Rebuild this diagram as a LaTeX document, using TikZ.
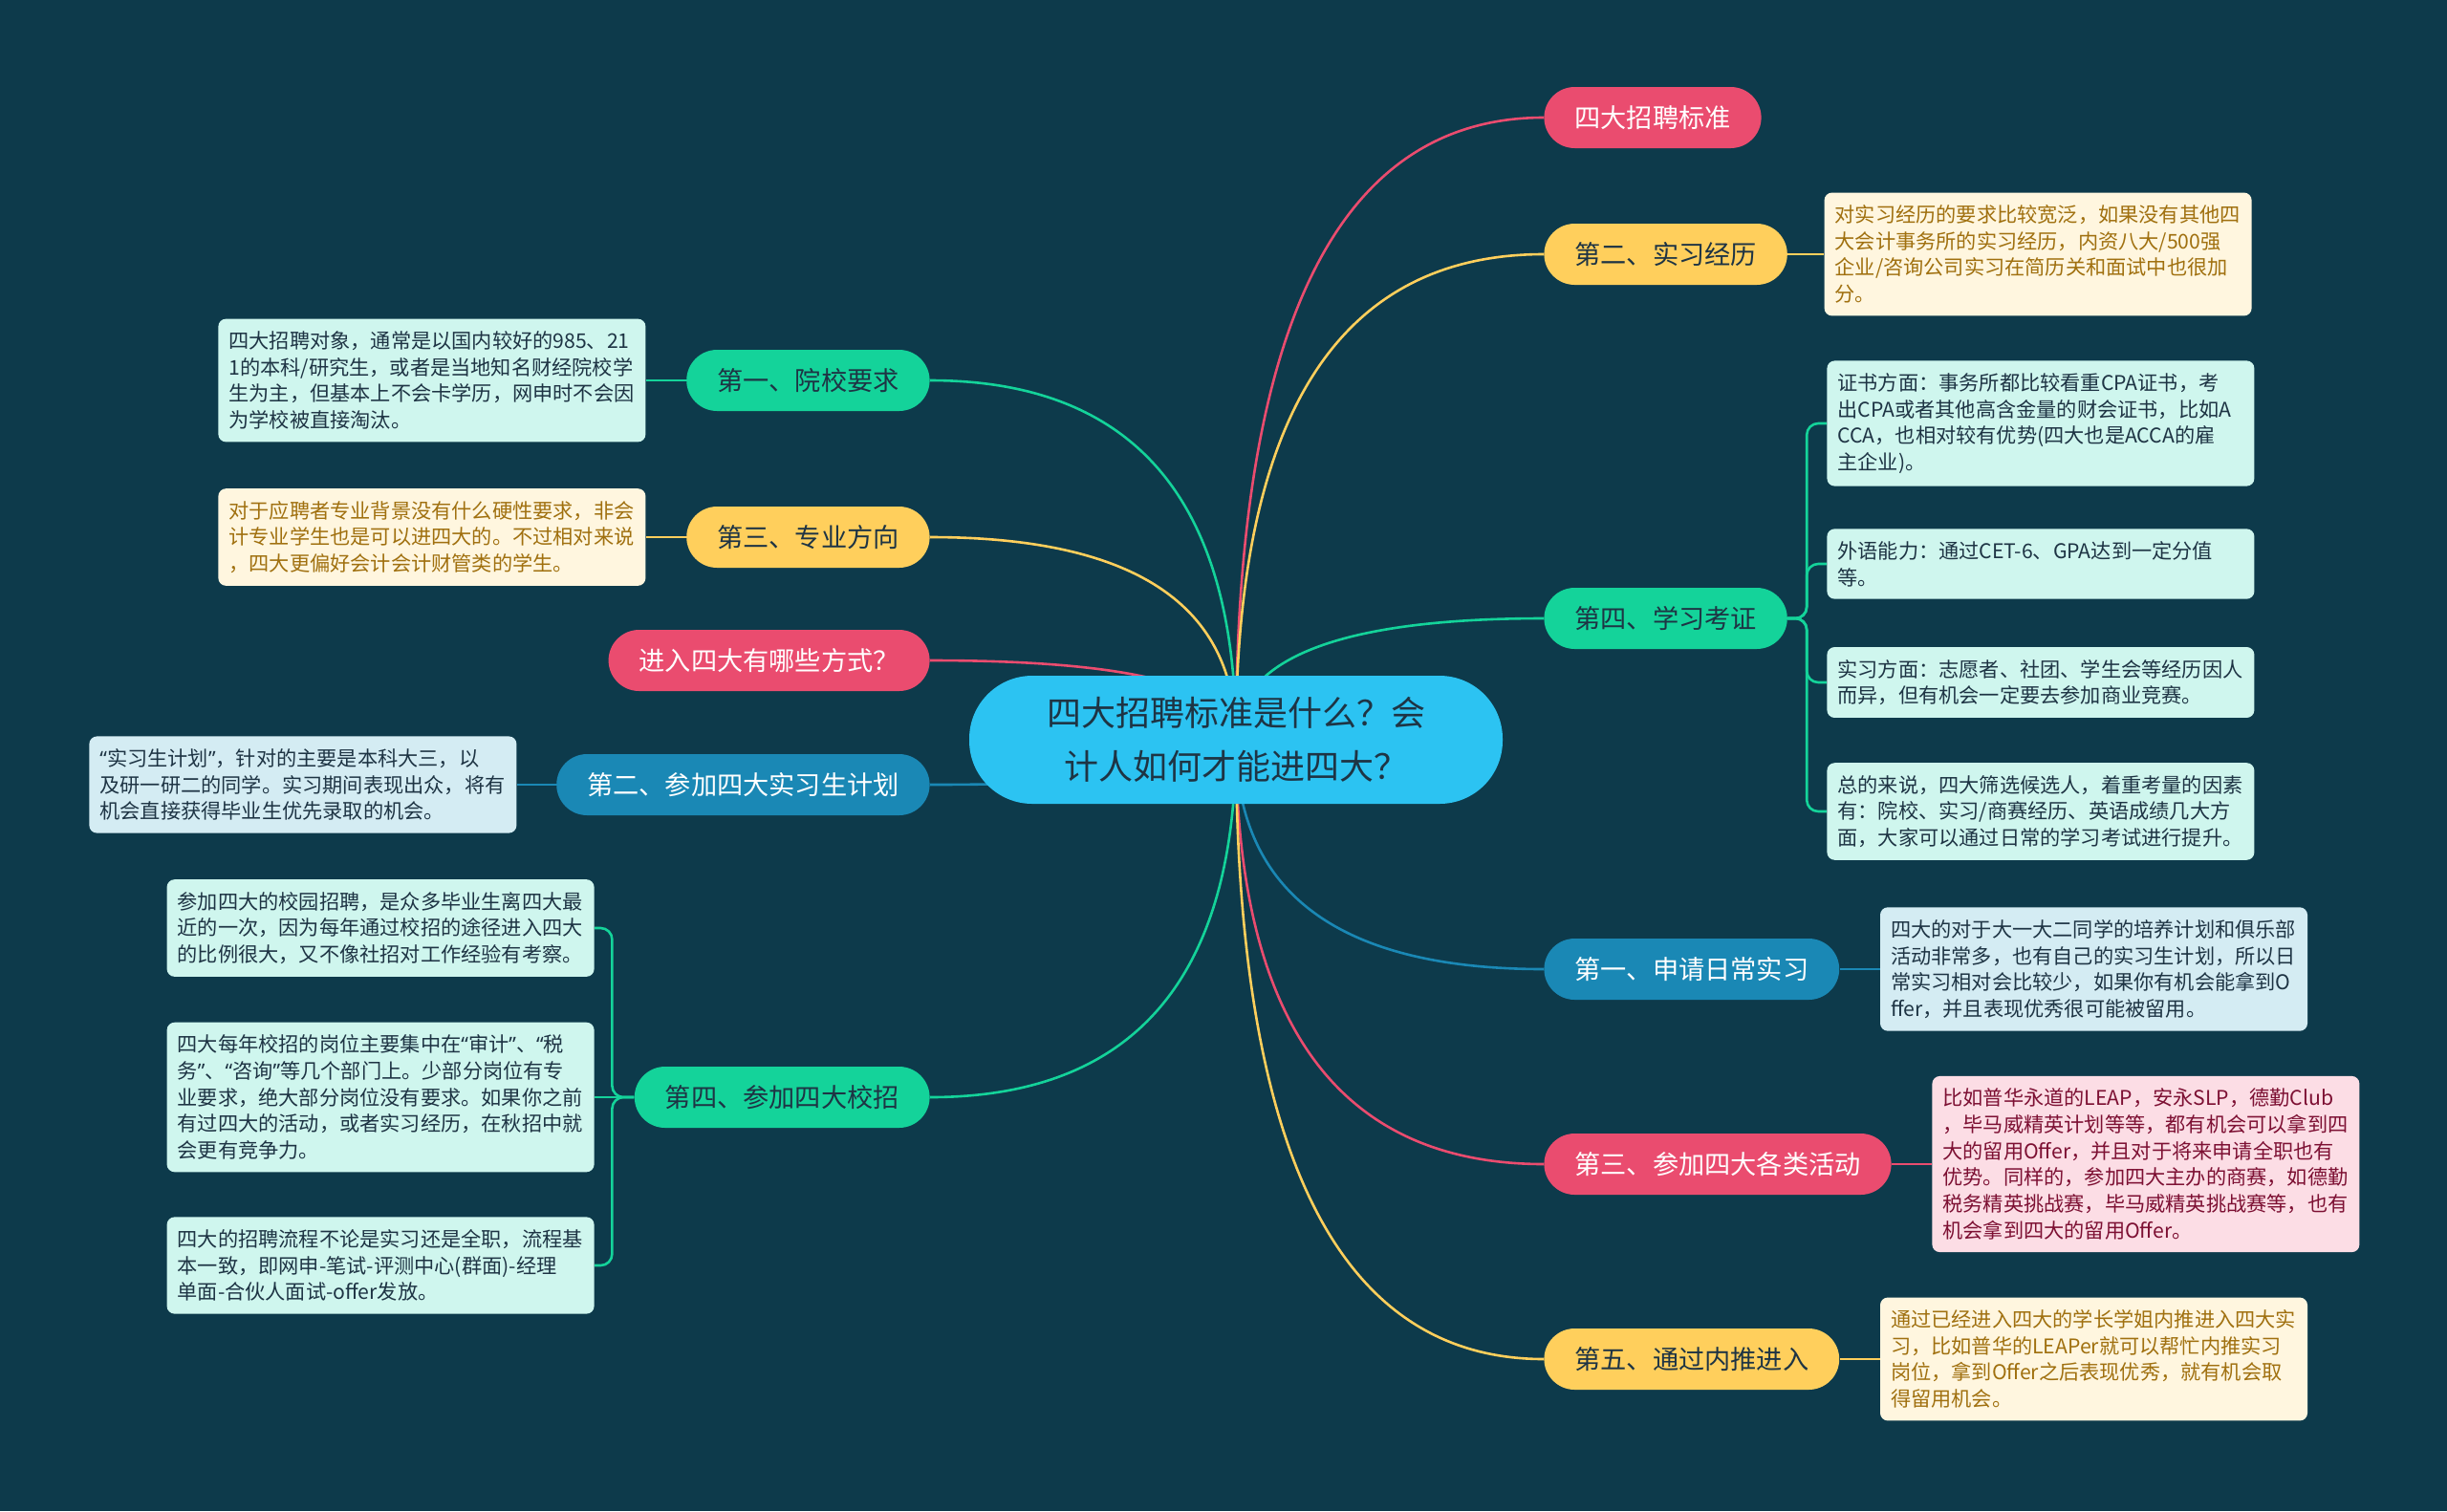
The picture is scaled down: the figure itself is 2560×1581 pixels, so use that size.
\documentclass[tikz,border=0pt]{standalone}
\usepackage{fontspec}
\setmainfont{Noto Sans CJK SC}
\newfontfamily\quotefont{Noto Sans}
\newcommand\opq{{\quotefont “}}
\newcommand\clq{{\quotefont ”}}
\usepackage{xcolor}
\usepackage{tikz}
\usetikzlibrary{positioning,calc}

\definecolor{bgc}{HTML}{0D3A4B}
\definecolor{centerc}{HTML}{2CC3F2}
\definecolor{pinkc}{HTML}{EA4C6F}
\definecolor{yellowc}{HTML}{FFCF5C}
\definecolor{greenc}{HTML}{14D39A}
\definecolor{bluec}{HTML}{1A88B5}
\definecolor{darktext}{HTML}{1E3444}
\definecolor{mintc}{HTML}{CFF6EE}
\definecolor{creamc}{HTML}{FFF6DF}
\definecolor{creamtext}{HTML}{A0700F}
\definecolor{paleblue}{HTML}{D4ECF3}
\definecolor{palepink}{HTML}{FCDDE5}
\definecolor{pinktext}{HTML}{7D1033}

\pgfdeclarelayer{bg}
\pgfdeclarelayer{lines}
\pgfsetlayers{bg,lines,main}

\tikzset{
    topic/.style={rounded corners=16pt, minimum height=32pt, inner xsep=16pt, inner ysep=0pt,
        font=\fontsize{13.6pt}{16pt}\selectfont},
    leaf/.style={rounded corners=4pt, text width=212.5pt, inner xsep=5.5pt, inner ysep=6.5pt,
        align=left, font=\fontsize{10.6pt}{13.85pt}\selectfont},
    edgeline/.style={line width=1.3pt},
    curvy/.style={to path={.. controls ($(\tikztostart)!0.667!(\tikztostart |- \tikztotarget)$)
        and ($(\tikztotarget)!0.667!(\tikztostart |- \tikztotarget)$) .. (\tikztotarget)}},
}

\begin{document}
\begin{tikzpicture}[x=0.5pt, y=-0.5pt]
        \begin{pgfonlayer}{bg}
            \fill[bgc] (0,0) rectangle (2560,1581);
        \end{pgfonlayer}

        % centre
        \node[fill=centerc, text=darktext, rounded corners=33pt, minimum width=279pt, minimum height=67pt,
            align=center, font=\fontsize{18pt}{27.75pt}\selectfont] (c) at (1293,774)
            {四大招聘标准是什么？会\\计人如何才能进四大？};

        % right side
        \node[topic, fill=pinkc, text=white, anchor=west] (r1) at (1615,123) {四大招聘标准};
        \node[topic, fill=yellowc, text=darktext, anchor=west] (r2) at (1615,266) {第二、实习经历};
        \node[topic, fill=greenc, text=darktext, anchor=west] (r3) at (1615,647) {第四、学习考证};
        \node[topic, fill=bluec, text=white, anchor=west] (r4) at (1615,1014) {第一、申请日常实习};
        \node[topic, fill=pinkc, text=white, anchor=west] (r5) at (1615,1218) {第三、参加四大各类活动};
        \node[topic, fill=yellowc, text=darktext, anchor=west] (r6) at (1615,1422) {第五、通过内推进入};

        \node[leaf, fill=creamc, text=creamtext, right=19pt of r2] (r2a)
            {对实习经历的要求比较宽泛，如果没有其他四\\大会计事务所的实习经历，内资八大/500强\\企业/咨询公司实习在简历关和面试中也很加\\分。};
        \node[leaf, fill=mintc, text=darktext, anchor=west] (r3a) at (1911,443)
            {证书方面：事务所都比较看重CPA证书，考\\出CPA或者其他高含金量的财会证书，比如A\\CCA，也相对较有优势(四大也是ACCA的雇\\主企业)。};
        \node[leaf, fill=mintc, text=darktext, anchor=west] (r3b) at (1911,590)
            {外语能力：通过CET-6、GPA达到一定分值\\等。};
        \node[leaf, fill=mintc, text=darktext, anchor=west] (r3c) at (1911,714)
            {实习方面：志愿者、社团、学生会等经历因人\\而异，但有机会一定要去参加商业竞赛。};
        \node[leaf, fill=mintc, text=darktext, anchor=west] (r3d) at (1911,849)
            {总的来说，四大筛选候选人，着重考量的因素\\有：院校、实习/商赛经历、英语成绩几大方\\面，大家可以通过日常的学习考试进行提升。};
        \node[leaf, fill=paleblue, text=darktext, right=21pt of r4] (r4a)
            {四大的对于大一大二同学的培养计划和俱乐部\\活动非常多，也有自己的实习生计划，所以日\\常实习相对会比较少，如果你有机会能拿到O\\ffer，并且表现优秀很可能被留用。};
        \node[leaf, fill=palepink, text=pinktext, right=21pt of r5] (r5a)
            {比如普华永道的LEAP，安永SLP，德勤Club\\，毕马威精英计划等等，都有机会可以拿到四\\大的留用Offer，并且对于将来申请全职也有\\优势。同样的，参加四大主办的商赛，如德勤\\税务精英挑战赛，毕马威精英挑战赛等，也有\\机会拿到四大的留用Offer。};
        \node[leaf, fill=creamc, text=creamtext, right=21pt of r6] (r6a)
            {通过已经进入四大的学长学姐内推进入四大实\\习，比如普华的LEAPer就可以帮忙内推实习\\岗位，拿到Offer之后表现优秀，就有机会取\\得留用机会。};

        % left side
        \node[topic, fill=greenc, text=darktext, anchor=east] (l1) at (973,398) {第一、院校要求};
        \node[topic, fill=yellowc, text=darktext, anchor=east] (l2) at (973,562) {第三、专业方向};
        \node[topic, fill=pinkc, text=white, anchor=east] (l3) at (973,691) {进入四大有哪些方式？};
        \node[topic, fill=bluec, text=white, anchor=east] (l4) at (973,821) {第二、参加四大实习生计划};
        \node[topic, fill=greenc, text=darktext, anchor=east] (l5) at (973,1148) {第四、参加四大校招};

        \node[leaf, fill=mintc, text=darktext, left=21pt of l1] (l1a)
            {四大招聘对象，通常是以国内较好的985、21\\1的本科/研究生，或者是当地知名财经院校学\\生为主，但基本上不会卡学历，网申时不会因\\为学校被直接淘汰。};
        \node[leaf, fill=creamc, text=creamtext, left=21pt of l2] (l2a)
            {对于应聘者专业背景没有什么硬性要求，非会\\计专业学生也是可以进四大的。不过相对来说\\，四大更偏好会计会计财管类的学生。};
        \node[leaf, fill=paleblue, text=darktext, left=20.5pt of l4] (l4a)
            {\opq 实习生计划\clq，针对的主要是本科大三，以\\及研一研二的同学。实习期间表现出众，将有\\机会直接获得毕业生优先录取的机会。};
        \node[leaf, fill=mintc, text=darktext, anchor=east] (l5a) at (622,971)
            {参加四大的校园招聘，是众多毕业生离四大最\\近的一次，因为每年通过校招的途径进入四大\\的比例很大，又不像社招对工作经验有考察。};
        \node[leaf, fill=mintc, text=darktext, anchor=east] (l5b) at (622,1148)
            {四大每年校招的岗位主要集中在\opq 审计\clq、\opq 税\\务\clq、\opq 咨询\clq 等几个部门上。少部分岗位有专\\业要求，绝大部分岗位没有要求。如果你之前\\有过四大的活动，或者实习经历，在秋招中就\\会更有竞争力。};
        \node[leaf, fill=mintc, text=darktext, anchor=east] (l5c) at (622,1324)
            {四大的招聘流程不论是实习还是全职，流程基\\本一致，即网申-笔试-评测中心(群面)-经理\\单面-合伙人面试-offer发放。};

        \begin{pgfonlayer}{lines}
            \draw[edgeline, pinkc] (c.center) to[curvy] (r1.west);
            \draw[edgeline, yellowc] (c.center) to[curvy] (r2.west);
            \draw[edgeline, greenc] (c.center) to[curvy] (r3.west);
            \draw[edgeline, bluec] (c.center) to[curvy] (r4.west);
            \draw[edgeline, pinkc] (c.center) to[curvy] (r5.west);
            \draw[edgeline, yellowc] (c.center) to[curvy] (r6.west);
            \draw[edgeline, greenc] (c.center) to[curvy] (l1.east);
            \draw[edgeline, yellowc] (c.center) to[curvy] (l2.east);
            \draw[edgeline, pinkc] (c.center) to[curvy] (l3.east);
            \draw[edgeline, bluec] (c.center) to[curvy] (l4.east);
            \draw[edgeline, greenc] (c.center) to[curvy] (l5.east);

            \draw[edgeline, yellowc] (r2) -- (r2a);
            \draw[edgeline, bluec] (r4) -- (r4a);
            \draw[edgeline, pinkc] (r5) -- (r5a);
            \draw[edgeline, yellowc] (r6) -- (r6a);
            \draw[edgeline, greenc] (l1) -- (l1a);
            \draw[edgeline, yellowc] (l2) -- (l2a);
            \draw[edgeline, bluec] (l4) -- (l4a);
            \draw[edgeline, greenc, rounded corners=6pt] (r3.east) -- ++(20,0) |- (r3a.west);
            \draw[edgeline, greenc, rounded corners=6pt] (r3.east) -- ++(20,0) |- (r3b.west);
            \draw[edgeline, greenc, rounded corners=6pt] (r3.east) -- ++(20,0) |- (r3c.west);
            \draw[edgeline, greenc, rounded corners=6pt] (r3.east) -- ++(20,0) |- (r3d.west);
            \draw[edgeline, greenc, rounded corners=6pt] (l5.west) -- ++(-23,0) |- (l5a.east);
            \draw[edgeline, greenc] (l5) -- (l5b);
            \draw[edgeline, greenc, rounded corners=6pt] (l5.west) -- ++(-23,0) |- (l5c.east);
        \end{pgfonlayer}
    \end{tikzpicture}
\end{document}
